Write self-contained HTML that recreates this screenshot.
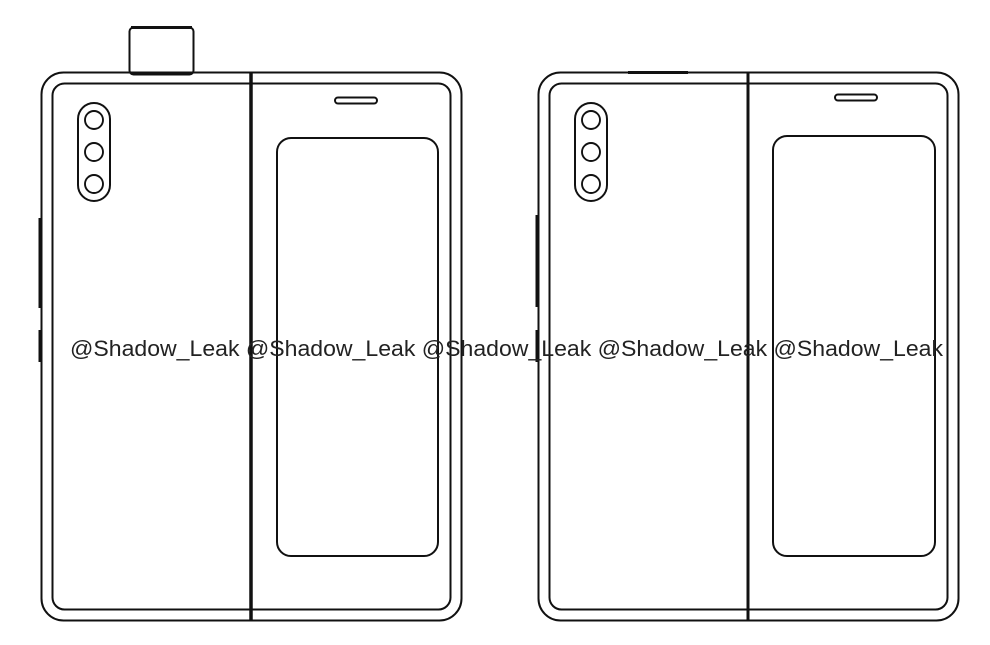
<!DOCTYPE html>
<html><head><meta charset="utf-8"><style>
html,body{margin:0;padding:0;background:#fff;width:990px;height:645px;overflow:hidden}
svg{display:block}
</style></head><body>
<svg width="990" height="645" viewBox="0 0 990 645" xmlns="http://www.w3.org/2000/svg" fill="none" stroke="#111" stroke-width="2">
<!-- LEFT PHONE -->
<rect x="129.5" y="27.5" width="64" height="47" rx="4" fill="#fff"/>
<line x1="131" y1="27.5" x2="192" y2="27.5" stroke-width="3"/>
<rect x="41.5" y="72.5" width="420" height="548" rx="22"/>
<rect x="52.5" y="83.5" width="398" height="526" rx="12"/>
<line x1="251" y1="72" x2="251" y2="621" stroke-width="3.5"/>
<rect x="78" y="103" width="32" height="98" rx="16"/>
<circle cx="94" cy="120" r="9" stroke-width="1.9"/><circle cx="94" cy="152" r="9" stroke-width="1.9"/><circle cx="94" cy="184" r="9" stroke-width="1.9"/>
<rect x="335" y="97.5" width="42" height="6" rx="3"/>
<rect x="277" y="138" width="161" height="418" rx="14"/>
<line x1="40" y1="218" x2="40" y2="308" stroke-width="3"/>
<line x1="40" y1="330" x2="40" y2="362" stroke-width="3"/>
<!-- RIGHT PHONE -->
<rect x="538.5" y="72.5" width="420" height="548" rx="22"/>
<rect x="549.5" y="83.5" width="398" height="526" rx="12"/>
<line x1="628" y1="72.5" x2="688" y2="72.5" stroke-width="3"/>
<line x1="748" y1="72" x2="748" y2="621" stroke-width="3"/>
<rect x="575" y="103" width="32" height="98" rx="16"/>
<circle cx="591" cy="120" r="9" stroke-width="1.9"/><circle cx="591" cy="152" r="9" stroke-width="1.9"/><circle cx="591" cy="184" r="9" stroke-width="1.9"/>
<rect x="835" y="94.5" width="42" height="6" rx="3"/>
<rect x="773" y="136" width="162" height="420" rx="14"/>
<line x1="537" y1="215" x2="537" y2="307" stroke-width="3"/>
<line x1="537" y1="330" x2="537" y2="362" stroke-width="3"/>
<!-- watermark -->
<text x="70" y="356" fill="#222" stroke="none" font-family="Liberation Sans, Arial, sans-serif" font-size="22" textLength="873" lengthAdjust="spacingAndGlyphs">@Shadow_Leak @Shadow_Leak @Shadow_Leak @Shadow_Leak @Shadow_Leak</text>
</svg>
</body></html>
